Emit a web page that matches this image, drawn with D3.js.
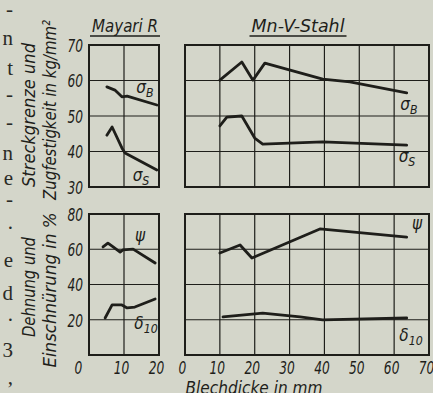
<!DOCTYPE html>
<html>
<head>
<meta charset="utf-8">
<script src="https://cdn.jsdelivr.net/npm/d3@7"></script>
<style>
  body { margin: 0; background: #d4d6ca; }
  svg { display: block; }
  .lbl { font-family: "DejaVu Sans", sans-serif; font-style: italic; fill: #1e1e1a; }
  .page { font-family: "Liberation Serif", serif; fill: #2a2a26; }
</style>
</head>
<body>
<div id="chart"></div>
<script>
// values: [Blechdicke mm, value]
const mayariSigmaB = [[5.1, 58.2], [7.4, 57.3], [9.4, 55.4], [10.9, 55.6], [19.4, 53.1]];
const mayariSigmaS = [[5.1, 44.6], [6.6, 46.9], [9.4, 41.0], [10.3, 39.6], [19.4, 34.8]];
const mayariPsi = [[4.0, 61.3], [5.4, 63.5], [6.9, 61.3], [8.9, 58.4], [9.7, 59.6], [12.6, 60.1], [18.9, 52.2]];
const mayariDelta = [[4.6, 21.0], [6.6, 28.4], [9.4, 28.4], [10.9, 26.7], [13.1, 27.2], [18.9, 31.8]];

const stahlSigmaB = [[10, 60.1], [16.3, 65.2], [19.5, 60.1], [22.9, 64.9], [39.5, 60.4], [47.3, 59.6], [63.6, 56.5]];
const stahlSigmaS = [[10, 47.2], [12, 49.7], [16.3, 50.0], [20, 43.8], [22.3, 42.1], [39.5, 42.7], [63.6, 41.8]];
const stahlPsi = [[10, 57.9], [15.8, 62.4], [19.2, 55.0], [38.7, 71.5], [63.6, 66.9]];
const stahlDelta = [[10.9, 21.6], [22.3, 23.8], [33, 21.6], [39.5, 19.9], [63.6, 21.0]];

const xTicksLeft = [0, 10, 20];
const xTicksRight = [0, 10, 20, 30, 40, 50, 60, 70];
const yTicksTop = [30, 40, 50, 60, 70];
const yTicksBottom = [0, 20, 40, 60, 80];
const yLabelsBottom = [20, 40, 60, 80];

// line ends of the book text cut by the left edge
const pageText = ["-", "n", "t", "-", "-", "n", "e", "-", ".", "e", "d", ".", "3", ","];
const pageBaselines = [16, 45, 75, 101, 129, 160, 185, 206, 229, 267, 300, 321, 357, 384];

const W = 433, H = 393;
const squeeze = "scale(0.68,1)";
const svg = d3.select("#chart").append("svg").attr("width", W).attr("height", H);
svg.append("rect").attr("width", W).attr("height", H).attr("fill", "#d4d6ca");

const xLeft = d3.scaleLinear().domain([0, 20]).range([89, 159]);
const xRight = d3.scaleLinear().domain([0, 70]).range([185, 429]);
const yTop = d3.scaleLinear().domain([30, 70]).range([187, 45]);
const yBottom = d3.scaleLinear().domain([0, 80]).range([355, 214]);

const ink = "#1e1e1a";

function panel(x, y, xt, yt) {
  const g = svg.append("g");
  // grid
  g.selectAll(".vg").data(xt.slice(1, -1)).enter().append("line")
    .attr("x1", d => x(d)).attr("x2", d => x(d))
    .attr("y1", y.range()[0]).attr("y2", y.range()[1])
    .attr("stroke", ink).attr("stroke-width", 1.2);
  g.selectAll(".hg").data(yt.slice(1, -1)).enter().append("line")
    .attr("x1", x.range()[0]).attr("x2", x.range()[1])
    .attr("y1", d => y(d)).attr("y2", d => y(d))
    .attr("stroke", ink).attr("stroke-width", 1.2);
  // frame
  g.append("rect")
    .attr("x", x.range()[0]).attr("y", y.range()[1])
    .attr("width", x.range()[1] - x.range()[0])
    .attr("height", y.range()[0] - y.range()[1])
    .attr("fill", "none").attr("stroke", ink).attr("stroke-width", 2);
}

panel(xLeft, yTop, xTicksLeft, yTicksTop);
panel(xRight, yTop, xTicksRight, yTicksTop);
panel(xLeft, yBottom, xTicksLeft, yTicksBottom);
panel(xRight, yBottom, xTicksRight, yTicksBottom);

function curve(data, x, y) {
  const line = d3.line().x(d => x(d[0])).y(d => y(d[1]));
  svg.append("path").attr("d", line(data))
    .attr("fill", "none").attr("stroke", ink)
    .attr("stroke-width", 2.8).attr("stroke-linejoin", "round").attr("stroke-linecap", "round");
}

curve(mayariSigmaB, xLeft, yTop);
curve(mayariSigmaS, xLeft, yTop);
curve(mayariPsi, xLeft, yBottom);
curve(mayariDelta, xLeft, yBottom);
curve(stahlSigmaB, xRight, yTop);
curve(stahlSigmaS, xRight, yTop);
curve(stahlPsi, xRight, yBottom);
curve(stahlDelta, xRight, yBottom);

// y tick labels (left of the Mayari panels)
function yLabels(y, ticks) {
  const ax = svg.append("g")
    .attr("transform", "translate(83,0)")
    .call(d3.axisLeft(y).tickValues(ticks).tickSize(0).tickPadding(0));
  ax.select(".domain").remove();
  ax.selectAll("text").attr("class", "lbl").attr("font-size", 18)
    .attr("dy", "0.36em").attr("fill", ink).attr("transform", squeeze);
}
yLabels(yTop, yTicksTop);
yLabels(yBottom, yLabelsBottom);

// x tick labels
function xLabels(x, ticks, zeroShift) {
  const ax = svg.append("g").attr("transform", "translate(-3,361)")
    .call(d3.axisBottom(x).tickValues(ticks).tickSize(0).tickPadding(0));
  ax.select(".domain").remove();
  ax.selectAll("text").attr("class", "lbl").attr("font-size", 18)
    .attr("dy", "0.72em").attr("fill", ink)
    .attr("x", d => d === 0 ? zeroShift : 0)
    .attr("transform", squeeze);
}
xLabels(xLeft, xTicksLeft, -12);
xLabels(xRight, xTicksRight, 0);

function fitText(txt, x, y, len, rot) {
  return svg.append("text").attr("class", "lbl")
    .attr("transform", `translate(${x},${y})` + (rot ? " rotate(-90)" : ""))
    .attr("text-anchor", "middle").attr("font-size", 18)
    .attr("textLength", len).attr("lengthAdjust", "spacingAndGlyphs").text(txt);
}

fitText("Blechdicke in mm", 254, 394, 137, false);

// titles
function title(txt, cx, w) {
  fitText(txt, cx, 32, w - 4, false);
  svg.append("line").attr("x1", cx - w / 2).attr("x2", cx + w / 2)
    .attr("y1", 36).attr("y2", 36).attr("stroke", ink).attr("stroke-width", 1.5);
}
title("Mayari R", 125, 70);
title("Mn-V-Stahl", 298, 97);

// rotated axis titles
fitText("Streckgrenze und", 35, 115, 144, true);
fitText("Zugfestigkeit in kg/mm²", 56, 110, 180, true);
fitText("Dehnung und", 35, 287, 100, true);
fitText("Einschnürung in %", 56, 290, 155, true);

// curve labels
function tag(sym, sub, x, y) {
  const t = svg.append("text").attr("class", "lbl")
    .attr("transform", `translate(${x},${y}) scale(0.85,1)`)
    .attr("text-anchor", "middle").attr("font-size", 18).text(sym);
  if (sub) t.append("tspan").attr("dy", 4).attr("font-size", 13).text(sub);
}
tag("σ", "B", 145, 93);
tag("σ", "S", 141, 181);
tag("ψ", "", 140, 241);
tag("δ", "10", 146, 329);
tag("σ", "B", 409, 110);
tag("σ", "S", 407, 162);
tag("ψ", "", 417, 229);
tag("δ", "10", 411, 341);

// page text fragments
svg.selectAll(".page").data(pageText).enter().append("text")
  .attr("class", "page").attr("x", 13).attr("y", (d, i) => pageBaselines[i])
  .attr("text-anchor", "end").attr("font-size", 21).text(d => d);
</script>
</body>
</html>
